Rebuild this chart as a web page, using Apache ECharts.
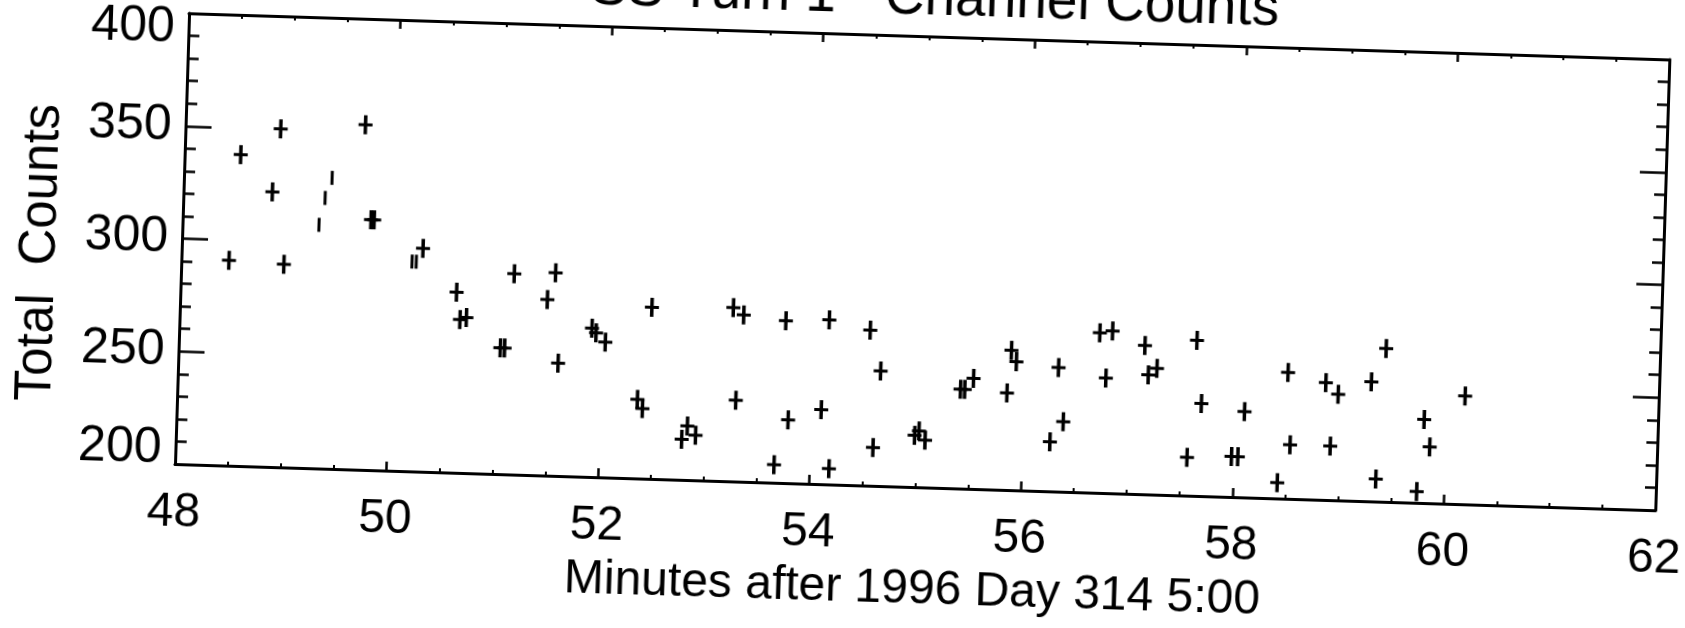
<!DOCTYPE html>
<html lang="en">
<head>
<meta charset="UTF-8">
<title>Channel Counts</title>
<style>
  html, body {
    margin: 0;
    padding: 0;
    width: 100%;
    height: 100%;
    background: #fff;
    overflow: hidden;
  }
  /* the scanned plot is tilted, so the whole chart is turned about its lower-left corner */
  #main {
    position: absolute;
    left: -100px;
    top: -100px;
    width: 1885px;
    height: 828px;
    transform: rotate(1.79deg);
    transform-origin: 275px 564px;
  }
</style>
</head>
<body>
<div id="main"></div>
<script src="https://cdn.jsdelivr.net/npm/echarts@6/dist/echarts.min.js"></script>
<script>
  // full crosses
  var minutes = [
    48.45, 48.53, 48.84, 48.90, 48.97, 49.70, 49.78, 49.81, 50.28, 50.61,
    50.65, 50.71, 51.04, 51.08, 51.15, 51.47, 51.54, 51.59, 51.90, 51.94,
    52.03, 52.35, 52.40, 52.46, 52.78, 52.83, 52.91, 53.23, 53.28, 53.33,
    53.66, 53.73, 53.78, 54.09, 54.14, 54.18, 54.53, 54.59, 54.64, 54.98,
    55.02, 55.08, 55.40, 55.44, 55.52, 55.84, 55.87, 55.92, 56.26, 56.32,
    56.38, 56.70, 56.77, 56.82, 57.13, 57.17, 57.25, 57.56, 57.62, 57.68,
    57.98, 58.04, 58.09, 58.42, 58.49, 58.53, 58.85, 58.91, 58.97, 59.28,
    59.35, 59.41, 59.74, 59.79, 59.85, 60.17
  ];
  var counts = [
    291, 338, 322, 350, 290, 353, 311, 311, 299, 280,
    268, 269, 256, 256, 289, 278, 290, 250, 266, 264,
    260, 235, 231, 276, 218, 224, 220, 277, 236, 274,
    208, 272, 228, 233, 273, 207, 269, 217, 251, 223,
    225, 221, 244, 244, 249, 243, 262, 257, 222, 255,
    231, 271, 251, 272, 266, 253, 256, 217, 269, 241,
    218, 218, 238, 207, 256, 224, 252, 224, 247, 253,
    210, 268, 205, 237, 225, 248
  ];
  // marks that show only the vertical stroke
  var barMinutes = [49.29, 49.34, 49.40, 50.18, 50.22];
  var barCounts = [308, 320, 329, 293, 293];

  var xTicks = ['48', '50', '52', '54', '56', '58', '60', '62'];
  var yTicks = ['200', '250', '300', '350', '400'];

  var ink = '#000';
  var font = 'Liberation Sans';

  var crossPath = 'path://M5.25,0h3.5v8h5.25v3h-5.25v8h-3.5v-8h-5.25v-3h5.25z';
  var barPath = 'path://M0,0h3v14h-3z';

  var crossData = minutes.map(function (m, i) { return [m, counts[i]]; });
  var barData = barMinutes.map(function (m, i) { return [m, barCounts[i]]; });

  var xMin = +xTicks[0], xMax = +xTicks[xTicks.length - 1];
  var yMin = +yTicks[0], yMax = +yTicks[yTicks.length - 1];

  function xAxisOf(pos, withLabels) {
    return {
      type: 'value',
      position: pos,
      min: xMin,
      max: xMax,
      interval: 2,
      name: withLabels ? 'Minutes after 1996 Day 314 5:00' : '',
      nameLocation: 'middle',
      nameGap: 75,
      nameTextStyle: { color: ink, fontFamily: font, fontSize: 48 },
      axisLine: { show: true, onZero: false, lineStyle: { color: ink, width: 3 } },
      axisTick: { show: true, inside: true, length: 9, lineStyle: { color: ink, width: 2.5 } },
      minorTick: { show: true, splitNumber: 4, length: 4, lineStyle: { color: ink, width: 2 } },
      axisLabel: {
        show: withLabels,
        margin: 24,
        color: ink,
        fontFamily: font,
        fontSize: 48,
        lineHeight: 50
      },
      splitLine: { show: false }
    };
  }

  function yAxisOf(pos, withLabels) {
    return {
      type: 'value',
      position: pos,
      min: yMin,
      max: yMax,
      interval: 50,
      axisLine: { show: true, onZero: false, lineStyle: { color: ink, width: 3 } },
      axisTick: { show: true, inside: true, length: 26, lineStyle: { color: ink, width: 2.5 } },
      minorTick: { show: true, splitNumber: 5, length: 11, lineStyle: { color: ink, width: 2.5 } },
      axisLabel: {
        show: withLabels,
        margin: 14,
        color: ink,
        fontFamily: font,
        fontSize: 50,
        lineHeight: 30,
        verticalAlignMinLabel: 'bottom',
        verticalAlignMaxLabel: 'top'
      },
      splitLine: { show: false }
    };
  }

  var myChart = echarts.init(document.getElementById('main'));
  var option = {
    backgroundColor: 'transparent',
    animation: false,
    grid: { left: 275, top: 113, width: 1481, height: 451 },
    xAxis: [xAxisOf('bottom', true), xAxisOf('top', false)],
    yAxis: [yAxisOf('left', true), yAxisOf('right', false)],
    graphic: [{
      type: 'text',
      x: 1020,
      y: 103,
      style: {
        text: 'SS Turn 1 - Channel Counts',
        font: '55px "Liberation Sans"',
        fill: ink,
        textAlign: 'center',
        textVerticalAlign: 'bottom'
      }
    }, {
      type: 'text',
      x: 134,
      y: 357,
      rotation: Math.PI / 2,
      style: {
        text: 'Total  Counts',
        font: '51px "Liberation Sans"',
        fill: ink,
        textAlign: 'center',
        textVerticalAlign: 'middle'
      }
    }],
    series: [{
      type: 'scatter',
      data: crossData,
      symbol: crossPath,
      symbolSize: [14, 19],
      itemStyle: { color: ink, opacity: 1 }
    }, {
      type: 'scatter',
      data: barData,
      symbol: barPath,
      symbolSize: [3, 14],
      itemStyle: { color: ink, opacity: 1 }
    }]
  };

  myChart.setOption(option);

  window.onresize = function () {
    myChart.resize();
  };
</script>
</body>
</html>
